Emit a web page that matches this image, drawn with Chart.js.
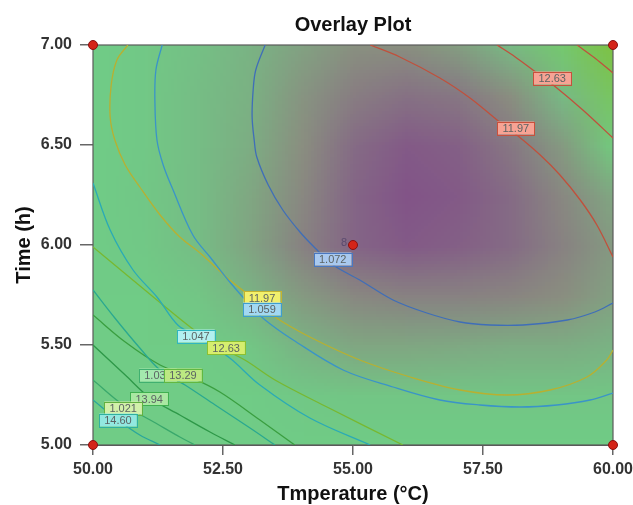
<!DOCTYPE html>
<html>
<head>
<meta charset="utf-8">
<script src="https://cdn.jsdelivr.net/npm/chart.js@4.4.0/dist/chart.umd.min.js"></script>
<style>
    html, body { margin: 0; padding: 0; background: #fff; }
</style>
</head>
<body>
<canvas id="overlay-plot" width="633" height="505"></canvas>
<script>
// grid of the shaded background (desirability-like shade, 0 = green, 1 = purple, <0 = yellow green)
const tempGrid = [50, 51, 52, 53, 54, 55, 56, 57, 58, 59, 60]
const timeGrid = [7.00, 6.75, 6.50, 6.25, 6.00, 5.75, 5.50, 5.25, 5.00]
const shade = [
    [0.00, 0.03, 0.10, 0.20, 0.35, 0.48, 0.50, 0.38, 0.15, -0.30, -0.90],
    [0.00, 0.03, 0.12, 0.22, 0.45, 0.65, 0.75, 0.70, 0.50, 0.15, -0.50],
    [0.00, 0.03, 0.12, 0.25, 0.50, 0.80, 0.95, 0.90, 0.70, 0.40, -0.10],
    [0.00, 0.04, 0.12, 0.30, 0.55, 0.85, 1.00, 0.95, 0.80, 0.55, 0.30],
    [0.00, 0.03, 0.12, 0.32, 0.60, 0.85, 0.95, 0.90, 0.80, 0.60, 0.40],
    [0.00, 0.00, 0.05, 0.20, 0.40, 0.55, 0.60, 0.60, 0.58, 0.50, 0.35],
    [0.00, 0.00, 0.00, 0.05, 0.20, 0.30, 0.30, 0.28, 0.25, 0.25, 0.20],
    [0.00, 0.00, 0.00, 0.00, 0.03, 0.05, 0.05, 0.05, 0.05, 0.05, 0.05],
    [0.00, 0.00, 0.00, 0.00, 0.00, 0.00, 0.00, 0.00, 0.00, 0.00, 0.00]
]

// contour lines, [temperature, time]
const line1072 = [[53.31,7.00],[53.13,6.875],[53.08,6.775],[53.06,6.64],[53.10,6.525],[53.15,6.44],[53.37,6.30],[53.65,6.175],[53.98,6.065],[54.27,5.985],[54.62,5.90],[55.13,5.825],[55.77,5.725],[56.42,5.66],[57.06,5.615],[57.63,5.60],[58.27,5.60],[59.12,5.625],[59.65,5.665],[60.00,5.71]]
const line1059 = [[51.33,7.00],[51.21,6.875],[51.19,6.725],[51.23,6.525],[51.35,6.40],[51.54,6.275],[51.92,6.05],[52.25,5.94],[52.63,5.815],[53.02,5.70],[53.31,5.625],[53.85,5.525],[54.81,5.375],[55.77,5.29],[56.67,5.225],[57.44,5.20],[58.21,5.19],[58.92,5.20],[59.56,5.225],[60.00,5.26]]
const line1047 = [[50.00,6.31],[50.33,6.075],[50.77,5.875],[51.23,5.74],[51.63,5.60],[52.06,5.535],[52.63,5.435],[53.21,5.30],[54.17,5.135],[55.33,5.00]]
const line1034 = [[50.00,5.775],[50.42,5.635],[50.90,5.485],[51.29,5.375],[51.77,5.30],[52.35,5.20],[53.02,5.085],[53.50,5.00]]
const line1021 = [[50.00,5.325],[50.58,5.20],[51.10,5.125],[51.67,5.04],[51.96,5.00]]
const line1197 = [[50.67,7.00],[50.46,6.925],[50.35,6.80],[50.33,6.64],[50.42,6.525],[50.62,6.40],[50.90,6.29],[51.29,6.15],[51.67,6.04],[52.06,5.96],[52.63,5.825],[53.12,5.725],[53.50,5.64],[54.17,5.54],[55.13,5.425],[56.10,5.34],[57.06,5.275],[57.96,5.25],[58.79,5.275],[59.50,5.34],[59.88,5.425],[60.00,5.475]]
const line1263 = [[50.00,5.99],[50.58,5.865],[51.23,5.725],[51.87,5.59],[52.35,5.50],[52.92,5.425],[53.50,5.325],[54.50,5.19],[55.96,5.00]]
const line1329 = [[50.00,5.65],[50.62,5.515],[51.29,5.40],[51.87,5.34],[52.44,5.265],[53.21,5.125],[53.88,5.00]]
const line1394 = [[50.00,5.50],[50.62,5.35],[51.10,5.235],[51.67,5.15],[52.25,5.065],[52.73,5.00]]
const line1460 = [[50.00,5.225],[50.48,5.125],[50.90,5.05],[51.29,5.00]]
const upper1197 = [[55.33,7.00],[55.90,6.94],[56.67,6.835],[57.25,6.735],[57.77,6.625],[58.15,6.55],[58.60,6.45],[58.98,6.35],[59.37,6.225],[59.69,6.10],[60.00,5.94]]
const upper1263 = [[57.77,7.00],[58.12,6.94],[58.46,6.875],[58.85,6.80],[59.42,6.675],[60.00,6.535]]
const upper1329 = [[59.31,7.00],[59.65,6.935],[60.00,6.86]]

// contour labels
const labelText = ['1.072', '11.97', '12.63', '11.97', '1.059', '1.047', '12.63', '1.034', '13.29', '13.94', '1.021', '14.60']
const labelTemp = [54.61, 58.13, 58.83, 53.25, 53.25, 51.98, 52.56, 51.25, 51.73, 51.08, 50.58, 50.48]
const labelTime = [5.93, 6.585, 6.835, 5.735, 5.68, 5.545, 5.485, 5.35, 5.35, 5.23, 5.185, 5.125]

// design points
const designTemp = [50, 50, 60, 60, 55]
const designTime = [5, 7, 5, 7, 6]
const designTags = ['', '', '', '', '8']

const labelStyles = [
    ['#a9c9ef', '#4a78c0'], ['#f7a394', '#c8503c'], ['#f7a394', '#c8503c'],
    ['#f2f06c', '#c4b430'], ['#a2d8f2', '#3e9ed0'], ['#b2f0f0', '#30b6c0'],
    ['#d6ee6e', '#8cc030'], ['#a4e8ae', '#40b070'], ['#bce882', '#62b840'],
    ['#aae8a2', '#40b050'], ['#d2f0aa', '#62b040'], ['#92e8e0', '#30b0a0']
]

function shadeColor(v) {
    const stops = [[-1, [128, 192, 58]], [0, [112, 204, 134]], [0.5, [138, 142, 128]], [1, [130, 84, 136]]]
    for (let i = 1; i < stops.length; i++) {
        if (v <= stops[i][0]) {
            const [a, ca] = stops[i - 1], [b, cb] = stops[i]
            const f = (v - a) / (b - a)
            return ca.map((c, k) => Math.round(c + (cb[k] - c) * f))
        }
    }
    return stops[stops.length - 1][1]
}

const shadeField = {
    id: 'shadeField',
    beforeDatasetsDraw(chart) {
        const {ctx, chartArea: a, scales: {x, y}} = chart
        const off = document.createElement('canvas')
        off.width = tempGrid.length
        off.height = timeGrid.length
        const octx = off.getContext('2d')
        const img = octx.createImageData(off.width, off.height)
        shade.forEach((row, j) => row.forEach((v, i) => {
            const c = shadeColor(v)
            const k = (j * off.width + i) * 4
            img.data[k] = c[0]; img.data[k + 1] = c[1]; img.data[k + 2] = c[2]; img.data[k + 3] = 255
        }))
        octx.putImageData(img, 0, 0)
        const hx = (tempGrid[1] - tempGrid[0]) / 2
        const hy = (timeGrid[0] - timeGrid[1]) / 2
        const left = x.getPixelForValue(tempGrid[0] - hx)
        const right = x.getPixelForValue(tempGrid[tempGrid.length - 1] + hx)
        const top = y.getPixelForValue(timeGrid[0] + hy)
        const bottom = y.getPixelForValue(timeGrid[timeGrid.length - 1] - hy)
        ctx.save()
        ctx.beginPath()
        ctx.rect(a.left, a.top, a.right - a.left, a.bottom - a.top)
        ctx.clip()
        ctx.imageSmoothingEnabled = true
        ctx.drawImage(off, left, top, right - left, bottom - top)
        ctx.restore()
        ctx.save()
        ctx.strokeStyle = '#5a5a5a'
        ctx.lineWidth = 1.2
        ctx.strokeRect(a.left, a.top, a.right - a.left, a.bottom - a.top)
        ctx.restore()
    },
    afterDatasetsDraw(chart) {
        const {ctx, scales: {x, y}} = chart
        ctx.save()
        ctx.font = '11px "Liberation Sans", Arial, sans-serif'
        ctx.textAlign = 'center'
        ctx.textBaseline = 'middle'
        labelText.forEach((t, i) => {
            const px = x.getPixelForValue(labelTemp[i])
            const py = y.getPixelForValue(labelTime[i])
            const w = ctx.measureText(t).width + 10
            const h = 13
            ctx.fillStyle = labelStyles[i][0]
            ctx.fillRect(px - w / 2, py - h / 2, w, h)
            ctx.strokeStyle = labelStyles[i][1]
            ctx.lineWidth = 1
            ctx.strokeRect(Math.round(px - w / 2) + 0.5, Math.round(py - h / 2) + 0.5, Math.round(w), h)
            ctx.fillStyle = '#5c6464'
            ctx.fillText(t, px, py + 0.5)
        })
        ctx.textAlign = 'right'
        ctx.fillStyle = '#5a4a6e'
        designTags.forEach((t, i) => {
            if (!t) return
            ctx.fillText(t, x.getPixelForValue(designTemp[i]) - 6, y.getPixelForValue(designTime[i]) - 2)
        })
        ctx.restore()
    }
}

function contourSet(points, color) {
    return {
        data: points.map(p => ({x: p[0], y: p[1]})),
        showLine: true,
        borderColor: color,
        borderWidth: 1.3,
        pointRadius: 0,
        tension: 0.35,
        fill: false
    }
}

const tickFont = {family: '"Liberation Sans", Arial, sans-serif', size: 16, weight: 'bold'}
const titleFont = {family: '"Liberation Sans", Arial, sans-serif', size: 20, weight: 'bold', lineHeight: 1}

new Chart(document.getElementById('overlay-plot'), {
    type: 'scatter',
    data: {
        datasets: [
            {
                data: designTemp.map((t, i) => ({x: t, y: designTime[i]})),
                pointRadius: 4.5,
                pointBackgroundColor: '#d42418',
                pointBorderColor: '#8a1010',
                pointBorderWidth: 1,
                clip: false
            },
            contourSet(line1072, '#3f6eb8'),
            contourSet(line1059, '#3a94c8'),
            contourSet(line1047, '#2aaab6'),
            contourSet(line1034, '#2aa890'),
            contourSet(line1021, '#3aa86c'),
            contourSet(line1197, '#b8b030'),
            contourSet(line1263, '#78b830'),
            contourSet(line1329, '#3a9e40'),
            contourSet(line1394, '#2e9848'),
            contourSet(line1460, '#2aa69c'),
            contourSet(upper1197, '#c0503c'),
            contourSet(upper1263, '#c0503c'),
            contourSet(upper1329, '#c0503c')
        ]
    },
    options: {
        responsive: false,
        animation: false,
        layout: {padding: {left: 0, right: 20, top: 0, bottom: 0}},
        plugins: {
            legend: {display: false},
            tooltip: {enabled: false},
            title: {
                display: true,
                text: 'Overlay Plot',
                color: '#111',
                font: titleFont,
                fullSize: false,
                padding: {top: 15, bottom: 10}
            }
        },
        scales: {
            x: {
                type: 'linear',
                min: 50,
                max: 60,
                afterFit: s => { s.height = 60; s.paddingLeft = 0; s.paddingRight = 0 },
                ticks: {stepSize: 2.5, callback: v => v.toFixed(2), font: tickFont, color: '#333', padding: 5, maxRotation: 0},
                grid: {drawOnChartArea: false, tickLength: 10, color: '#666', lineWidth: 1.5},
                border: {display: true, color: '#5a5a5a'},
                title: {display: true, text: 'Tmperature (°C)', color: '#111', font: titleFont, padding: {top: 0, bottom: 1}}
            },
            y: {
                type: 'linear',
                min: 5,
                max: 7,
                afterFit: s => { s.width = 93; s.paddingTop = 0; s.paddingBottom = 0 },
                ticks: {stepSize: 0.5, callback: v => v.toFixed(2), font: tickFont, color: '#333', padding: 8},
                grid: {drawOnChartArea: false, tickLength: 13, color: '#666', lineWidth: 1.5},
                border: {display: true, color: '#5a5a5a'},
                title: {display: true, text: 'Time (h)', color: '#111', font: titleFont, padding: {top: 14, bottom: 0}}
            }
        }
    },
    plugins: [shadeField]
})
</script>
</body>
</html>
